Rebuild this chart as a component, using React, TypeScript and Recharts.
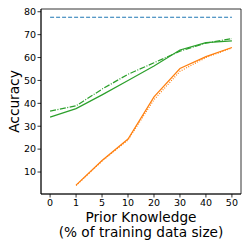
import React from 'react'
import { LineChart, Line, XAxis, YAxis, Label, ReferenceArea } from 'recharts'

const categories = ['0', '1', '5', '10', '20', '30', '40', '50']
const baseline = [77.6, 77.6, 77.6, 77.6, 77.6, 77.6, 77.6, 77.6]
const greenSolid = [34.0, 37.7, 43.7, 50.0, 56.3, 63.3, 66.5, 67.3]
const greenDashDot = [36.6, 38.9, 46.2, 52.7, 57.7, 62.8, 66.3, 68.3]
const orangeSolid = [null, 4.3, 15.0, 24.4, 42.8, 55.2, 60.4, 64.4]
const orangeDotted = [null, 4.1, 14.8, 24.0, 41.6, 54.0, 60.0, 64.2]
const yTicks = [10, 20, 30, 40, 50, 60, 70, 80]

const data = categories.map((c, i) => ({
  idx: i,
  base: baseline[i],
  gs: greenSolid[i],
  gd: greenDashDot[i],
  os: orangeSolid[i],
  od: orangeDotted[i],
}))

const font = 'DejaVu Sans, sans-serif'
const tick = { fontSize: 9.5, fill: '#000', fontFamily: font }
const spine = { stroke: '#000', strokeWidth: 0.8 }

export default function App() {
  return (
    <div style={{ position: 'absolute', left: 0, top: 0, width: 249, height: 249, background: '#fff' }}>
      <LineChart width={249} height={249} data={data} margin={{ top: 9, right: 8, bottom: 0, left: 0 }}>
        <XAxis
          dataKey="idx"
          type="number"
          domain={[-0.35, 7.35]}
          ticks={[0, 1, 2, 3, 4, 5, 6, 7]}
          tickFormatter={(v: number) => categories[v]}
          allowDataOverflow
          height={55}
          tick={tick}
          axisLine={spine}
          tickLine={spine}
          tickSize={3.5}
          tickMargin={1.5}
        >
          <Label
            content={(p: any) => {
              const vb = p.viewBox
              const cx = vb.x + vb.width / 2
              return (
                <text textAnchor="middle" fontFamily={font} fontSize={13.7} fill="#000">
                  <tspan x={cx} y={vb.y + 27.7}>Prior Knowledge</tspan>
                  <tspan x={cx} y={vb.y + 43.3}>(% of training data size)</tspan>
                </text>
              )
            }}
          />
        </XAxis>
        <YAxis
          domain={[0.4, 81.2]}
          ticks={yTicks}
          allowDataOverflow
          width={41}
          tick={tick}
          axisLine={spine}
          tickLine={spine}
          tickSize={3.5}
          tickMargin={1.5}
        >
          <Label
            content={(p: any) => {
              const vb = p.viewBox
              const cy = vb.y + vb.height / 2
              return (
                <text x={18.5} y={cy} transform={`rotate(-90, 18.5, ${cy})`} textAnchor="middle" fontFamily={font} fontSize={13.7} fill="#000">
                  Accuracy
                </text>
              )
            }}
          />
        </YAxis>
        <ReferenceArea x1={-0.35} x2={7.35} y1={0.4} y2={81.2} fill="none" stroke="#000" strokeWidth={0.8} fillOpacity={0} ifOverflow="visible" />
        <Line dataKey="base" stroke="#1f77b4" strokeWidth={1.2} strokeDasharray="4 2" dot={false} isAnimationActive={false} />
        <Line dataKey="gs" stroke="#2ca02c" strokeWidth={1.2} dot={false} isAnimationActive={false} />
        <Line dataKey="gd" stroke="#2ca02c" strokeWidth={1.2} strokeDasharray="6 1.5 1 1.5" dot={false} isAnimationActive={false} />
        <Line dataKey="os" stroke="#ff7f0e" strokeWidth={1.2} dot={false} isAnimationActive={false} />
        <Line dataKey="od" stroke="#ff7f0e" strokeWidth={1.2} strokeDasharray="1 1.5" dot={false} isAnimationActive={false} />
      </LineChart>
    </div>
  )
}
